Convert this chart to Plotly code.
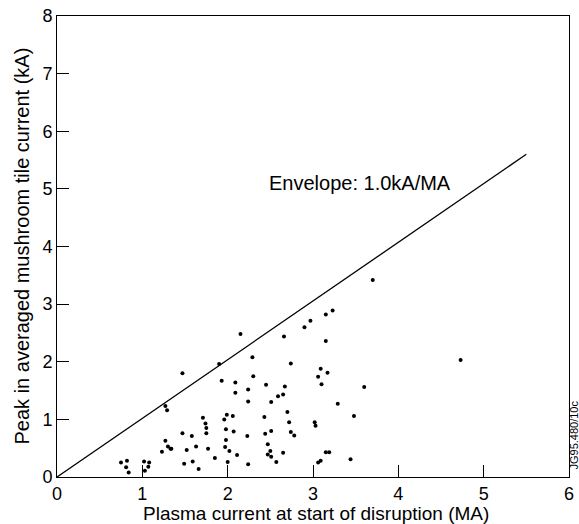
import plotly.graph_objects as go

# Scatter data: plasma current at start of disruption (MA) vs peak tile current (kA)
plasma_current = [
    1.27, 1.29, 1.27, 1.30, 1.33, 1.23, 0.75, 0.82, 0.81, 0.84, 1.02, 1.08, 1.07, 1.03,
    2.15, 2.66, 1.47, 1.90, 2.29, 2.74, 1.93, 2.09, 2.30, 2.09, 2.24, 2.45, 2.67, 2.59,
    2.65, 2.24, 2.51, 1.71, 1.74, 1.75, 1.75, 1.99, 2.06, 1.96, 1.98, 2.07, 2.43, 2.70,
    2.72, 2.74, 2.78, 2.51, 2.44, 1.47, 1.58, 2.23, 1.34, 1.52, 1.63, 1.77, 1.98, 1.97,
    2.02, 2.11, 1.85, 2.47, 2.50, 2.47, 2.51, 2.65, 2.57, 1.49, 1.59, 1.66, 2.00, 2.24,
    3.70, 3.15, 3.23, 2.97, 2.90, 3.15, 3.09, 3.17, 3.06, 3.10, 3.60, 3.29, 3.48, 3.02,
    3.03, 3.15, 3.19, 3.06, 3.09, 3.44, 4.73,
]
peak_current = [
    1.23, 1.16, 0.63, 0.53, 0.49, 0.44, 0.25, 0.28, 0.17, 0.08, 0.27, 0.25, 0.18, 0.11,
    2.48, 2.44, 1.80, 1.96, 2.08, 1.97, 1.67, 1.64, 1.75, 1.46, 1.52, 1.60, 1.57, 1.40,
    1.43, 1.31, 1.30, 1.03, 0.93, 0.85, 0.76, 1.08, 1.06, 1.00, 0.83, 0.79, 1.04, 1.13,
    0.95, 0.78, 0.72, 0.80, 0.75, 0.76, 0.71, 0.71, 0.49, 0.47, 0.53, 0.49, 0.64, 0.52,
    0.45, 0.38, 0.33, 0.57, 0.45, 0.39, 0.35, 0.42, 0.26, 0.23, 0.27, 0.14, 0.26, 0.22,
    3.42, 2.82, 2.89, 2.71, 2.60, 2.36, 1.88, 1.81, 1.74, 1.61, 1.56, 1.27, 1.06, 0.95,
    0.89, 0.43, 0.43, 0.25, 0.28, 0.31, 2.03,
]

# Envelope line (1.0 kA/MA)
envelope_x = [0.0, 5.5]
envelope_y = [0.0, 5.6]

x_ticks = [0, 1, 2, 3, 4, 5, 6]
y_ticks = [0, 1, 2, 3, 4, 5, 6, 7, 8]

FONT = "Liberation Sans, Arial, Helvetica, sans-serif"

fig = go.Figure()
fig.add_trace(go.Scatter(
    x=envelope_x, y=envelope_y, mode="lines",
    line=dict(color="black", width=1.3), showlegend=False, hoverinfo="skip",
))
fig.add_trace(go.Scatter(
    x=plasma_current, y=peak_current, mode="markers",
    marker=dict(color="black", size=4, symbol="circle"), showlegend=False,
))

fig.add_annotation(
    x=3.55, y=5.1, xref="x", yref="y", text="Envelope: 1.0kA/MA",
    showarrow=False, xanchor="center", yanchor="middle",
    font=dict(family=FONT, size=20, color="black"),
)
fig.add_annotation(
    x=0.506, y=-0.0792, xref="paper", yref="paper",
    text="Plasma current at start of disruption (MA)", showarrow=False,
    xanchor="center", yanchor="middle",
    font=dict(family=FONT, size=19, color="black"),
)
fig.add_annotation(
    x=-0.0703, y=0.5, xref="paper", yref="paper",
    text="Peak in averaged mushroom tile current (kA)", showarrow=False,
    textangle=-90, xanchor="center", yanchor="middle",
    font=dict(family=FONT, size=20, color="black"),
)
fig.add_annotation(
    x=1.0, xshift=5, y=0.09, xref="paper", yref="paper",
    text="JG95.480/10c", showarrow=False, textangle=-90,
    xanchor="center", yanchor="middle",
    font=dict(family=FONT, size=11, color="black"),
)

axis_common = dict(
    showgrid=False, zeroline=False, showline=True, linecolor="black", linewidth=1,
    mirror=True, ticks="inside", ticklen=12, tickwidth=1, tickcolor="black",
    tickfont=dict(family=FONT, size=18, color="black"),
)
fig.update_xaxes(range=[0, 6], tickvals=x_ticks, ticktext=[str(v) for v in x_ticks], **axis_common)
fig.update_yaxes(range=[0, 8], tickvals=y_ticks, ticktext=[str(v) for v in y_ticks], **axis_common)

fig.update_layout(
    width=579, height=524,
    margin=dict(l=57, r=10, t=16, b=47, autoexpand=False),
    plot_bgcolor="white", paper_bgcolor="white",
    font=dict(family=FONT, color="black"),
)

fig.write_html("out.html")
